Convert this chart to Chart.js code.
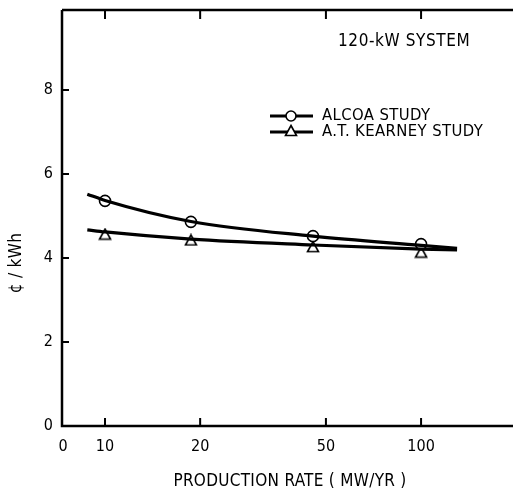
<!DOCTYPE html>
<html><head><meta charset="utf-8">
<script src="https://cdn.jsdelivr.net/npm/chart.js@4/dist/chart.umd.min.js"></script>
<style>html,body{margin:0;padding:0;background:#fff;overflow:hidden;width:513px;height:496px}#wrap{width:530px;height:496px}</style>
</head><body><div id="wrap"><canvas id="c" width="530" height="496"></canvas></div>
<script>
// ---- data ----
const xTickValues = [10, 20, 50, 100];
const xTickLabels = ['10', '20', '50', '100'];
const xZeroLabel = '0';
const yTickValues = [0, 2, 4, 6, 8];
const rateMarks = [10, 18.7, 45.5, 100];
const alcoaMarks = [5.36, 4.86, 4.52, 4.33];
const kearneyMarks = [4.57, 4.43, 4.27, 4.14];
const curveX = [8.79, 10, 18.7, 45.5, 100, 130];
const alcoaCurve = [5.52, 5.37, 4.87, 4.52, 4.30, 4.23];
const kearneyCurve = [4.67, 4.62, 4.45, 4.31, 4.21, 4.19];
const seriesNames = ['ALCOA STUDY', 'A.T. KEARNEY STUDY'];
const noteText = '120-kW SYSTEM';
const xTitle = 'PRODUCTION RATE ( MW/YR )';
const yTitle = '\u00A2 / kWh';

const FONT = '"DejaVu Sans Condensed", "Liberation Sans Narrow", sans-serif';
const pts = (xs, ys) => xs.map((x, i) => ({x, y: ys[i]}));

const triangle = (() => {
  const c = document.createElement('canvas'); c.width = 14; c.height = 13;
  const g = c.getContext('2d');
  g.fillStyle = '#fff'; g.strokeStyle = '#000'; g.lineWidth = 1.6;
  g.beginPath(); g.moveTo(7, 1.5); g.lineTo(12.5, 11.5); g.lineTo(1.5, 11.5); g.closePath();
  g.fill(); g.stroke(); return c;
})();

const deco = {
  id: 'deco',
  afterDraw(chart) {
    const {ctx, chartArea: a, scales: {x, y}} = chart;
    ctx.save();
    ctx.strokeStyle = '#000'; ctx.fillStyle = '#000';
    ctx.lineWidth = 2.5;
    ctx.beginPath();
    ctx.moveTo(a.left, a.top); ctx.lineTo(a.left, a.bottom); ctx.lineTo(a.right, a.bottom);
    ctx.moveTo(a.left, a.top); ctx.lineTo(a.right, a.top); ctx.lineTo(a.right, a.bottom);
    ctx.stroke();
    ctx.lineWidth = 2;
    ctx.beginPath();
    xTickValues.forEach(v => {
      const px = x.getPixelForValue(v);
      ctx.moveTo(px, a.bottom); ctx.lineTo(px, a.bottom - 8);
      ctx.moveTo(px, a.top); ctx.lineTo(px, a.top + 9);
    });
    yTickValues.forEach(v => {
      const py = y.getPixelForValue(v);
      ctx.moveTo(a.left, py); ctx.lineTo(a.left + 7, py);
    });
    ctx.stroke();
    ctx.font = '16px ' + FONT;
    ctx.textAlign = 'center'; ctx.textBaseline = 'middle';
    ctx.fillText(xZeroLabel, a.left + 1, a.bottom + 21);
    xTickValues.forEach((v, i) => ctx.fillText(xTickLabels[i], x.getPixelForValue(v), a.bottom + 21));
    ctx.textAlign = 'right';
    yTickValues.forEach(v => ctx.fillText(String(v), a.left - 9, y.getPixelForValue(v)));
    ctx.font = '17px ' + FONT;
    ctx.textAlign = 'center';
    ctx.letterSpacing = '0.3px';
    ctx.fillText(xTitle, 290, 482);
    ctx.save(); ctx.translate(17, 263); ctx.rotate(-Math.PI / 2);
    ctx.fillText(yTitle, 0, 0); ctx.restore();
    ctx.textAlign = 'left';
    ctx.letterSpacing = '0.6px';
    ctx.fillText(noteText, 338, 42);
    ctx.font = '16.5px ' + FONT;
    ctx.letterSpacing = '0.4px';
    const lx0 = 270, lx1 = 313, lxm = 291;
    [116, 132].forEach((ly, i) => {
      ctx.lineWidth = 3;
      ctx.beginPath(); ctx.moveTo(lx0, ly); ctx.lineTo(lx1, ly); ctx.stroke();
      if (i === 0) {
        ctx.lineWidth = 1.6; ctx.fillStyle = '#fff';
        ctx.beginPath(); ctx.arc(lxm, ly, 5, 0, Math.PI * 2); ctx.fill(); ctx.stroke();
      } else {
        ctx.drawImage(triangle, lxm - 7, ly - 8);
      }
      ctx.fillStyle = '#000';
      ctx.fillText(seriesNames[i], 322, ly);
    });
    ctx.restore();
  }
};

new Chart(document.getElementById('c'), {
  type: 'scatter',
  data: {
    datasets: [
      {label: seriesNames[0] + ' curve', data: pts(curveX, alcoaCurve), showLine: true,
       borderColor: '#000', borderWidth: 3.2, pointRadius: 0, cubicInterpolationMode: 'monotone'},
      {label: seriesNames[1] + ' curve', data: pts(curveX, kearneyCurve), showLine: true,
       borderColor: '#000', borderWidth: 3.2, pointRadius: 0, cubicInterpolationMode: 'monotone'},
      {label: seriesNames[0], data: pts(rateMarks, alcoaMarks), showLine: false,
       pointStyle: 'circle', pointRadius: 5.5, pointBorderWidth: 1.6,
       pointBackgroundColor: '#fff', pointBorderColor: '#000'},
      {label: seriesNames[1], data: pts(rateMarks, kearneyMarks), showLine: false,
       pointStyle: triangle, pointRadius: 6}
    ]
  },
  options: {
    responsive: false, animation: false, devicePixelRatio: 1,
    layout: {padding: {left: 62, right: 10, top: 10, bottom: 70}},
    plugins: {legend: {display: false}, tooltip: {enabled: false}},
    scales: {
      x: {type: 'logarithmic', min: 7.31, max: 205.6, display: false},
      y: {type: 'linear', min: 0, max: 9.905, display: false}
    }
  },
  plugins: [deco]
});
</script></body></html>
